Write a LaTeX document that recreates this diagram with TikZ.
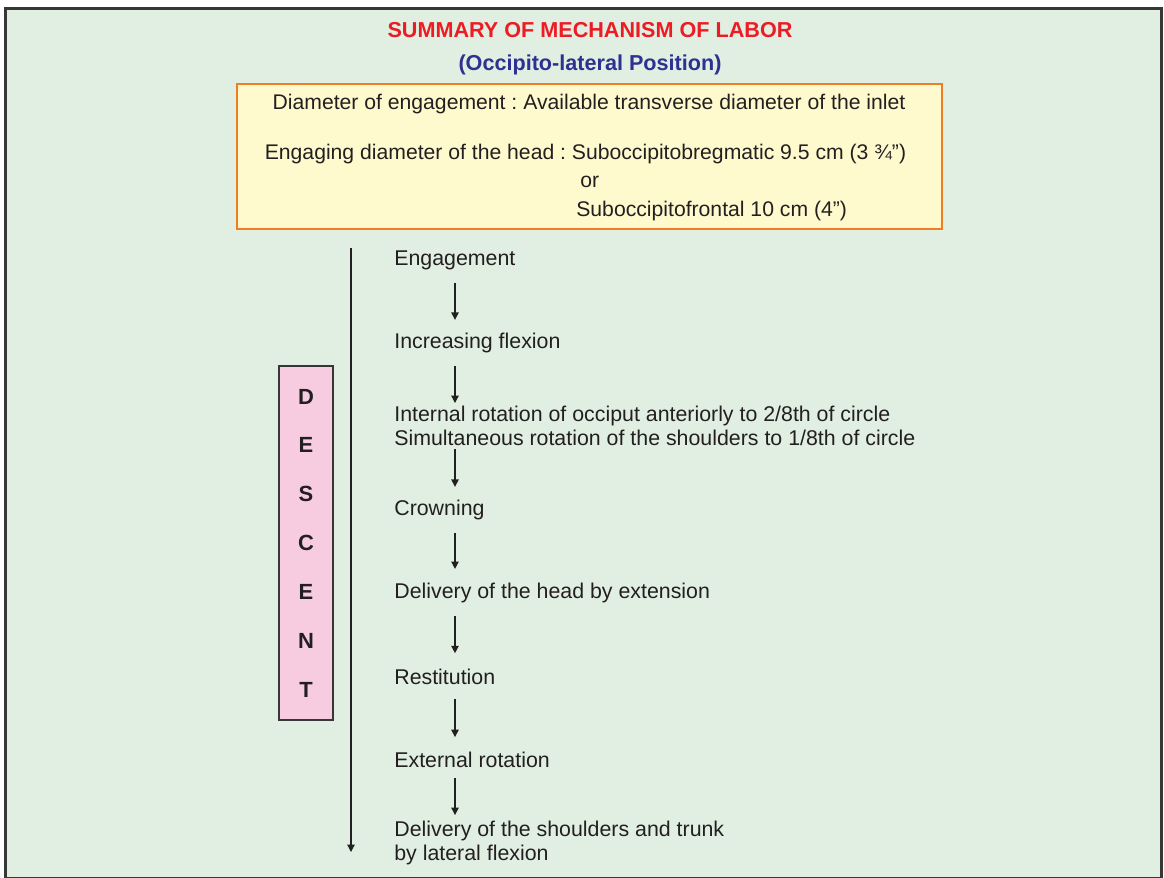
\documentclass[tikz,border=0pt]{standalone}
\usepackage{fontspec}
\setmainfont{Liberation Sans}
\usepackage{xcolor}
\usepackage{tikz}
\usetikzlibrary{arrows.meta, positioning, calc}
\definecolor{panelgreen}{RGB}{224, 239, 225}
\definecolor{framegray}{RGB}{55, 55, 55}
\definecolor{inkgray}{RGB}{35, 31, 32}
\definecolor{boxyellow}{RGB}{255, 250, 205}
\definecolor{boxorange}{RGB}{240, 125, 35}
\definecolor{descpink}{RGB}{248, 204, 224}
\definecolor{titlered}{RGB}{237, 28, 36}
\definecolor{subblue}{RGB}{46, 49, 146}
\frenchspacing

\begin{document}
\begin{tikzpicture}[
    x=0.02cm, y=-0.02cm,
    stepfont/.style={font=\fontsize{12.15}{13.7}\selectfont},
    stage/.style={stepfont, inner sep=0pt, anchor=north west, text=inkgray},
    oneline/.style={stage, text height=8.6pt, text depth=2.5pt},
    twoline/.style={stage, align=left},
    boxtext/.style={font=\fontsize{12.05}{13.7}\selectfont, inner sep=0pt, anchor=base, text=inkgray},
    heading/.style={font=\fontsize{12.3}{14}\selectfont\bfseries, inner sep=0pt},
    inletbox/.style={rectangle, draw=boxorange, line width=0.8pt, fill=boxyellow, minimum width=14.1cm, minimum height=2.9cm},
    descentbox/.style={rectangle, draw=framegray, line width=0.8pt, fill=descpink, minimum width=1.08cm, minimum height=7.08cm, align=center, font=\fontsize{12.5}{27.8}\selectfont\bfseries, text=inkgray},
    arrow/.style={-{Triangle[length=4.2pt, width=4.2pt]}, line width=0.7pt, draw=inkgray},
    steparrow/.style={arrow, shorten <=7.2pt, shorten >=7.5pt}
]

% Page and frame
\path[use as bounding box] (0,0) rectangle (1164,877);
\clip (0,0) rectangle (1164,877);
\fill[white] (0,0) rectangle (1164,877);
\draw[line width=1.7pt, draw=framegray, fill=panelgreen] (5.5,8.5) rectangle (1161,878);

% Heading
\node[heading, text=titlered] (title) at (590,30) {SUMMARY OF MECHANISM OF LABOR};
\node[heading, text=subblue] (subtitle) at (590,65) {(Occipito-lateral Position)};

% Diameters box
\node[inletbox] (inlet) at (589.5,156.5) {};
\node[boxtext] (diam) at (589,109) {Diameter of engagement : Available transverse diameter of the inlet};
\node[boxtext] (engag) at (585.5,159) {Engaging diameter of the head : Suboccipitobregmatic 9.5 cm (3 ¾”)};
\node[boxtext, anchor=base west] (orword) at (580,187) {or};
\node[boxtext, anchor=base west] (subfront) at (576,216) {Suboccipitofrontal 10 cm (4”)};

% Descent
\node[descentbox] (descent) at (306,543) {D\\E\\S\\C\\E\\N\\T};
\coordinate (dtop) at (351,248);
\coordinate (dbot) at (351,852);
\draw[arrow] (dtop) -- (dbot);

% Movements
\node[oneline] (s1) at (394,250) {Engagement};
\node[oneline] (s2) at (394,333) {Increasing flexion};
\node[twoline] (s3) at (394,406) {Internal rotation of occiput anteriorly to 2/8th of circle\\Simultaneous rotation of the shoulders to 1/8th of circle};
\node[oneline] (s4) at (394,500) {Crowning};
\node[oneline] (s5) at (394,583) {Delivery of the head by extension};
\node[oneline] (s6) at (394,669) {Restitution};
\node[oneline] (s7) at (394,752) {External rotation};
\node[twoline] (s8) at (394,821) {Delivery of the shoulders and trunk\\by lateral flexion};

% Step arrows
\coordinate (ax) at (455,0);
\draw[steparrow] (s1.south -| ax) -- (s2.north -| ax);
\draw[steparrow, shorten >=1.7pt] (s2.south -| ax) -- (s3.north -| ax);
\draw[steparrow, shorten <=1.5pt] (s3.south -| ax) -- (s4.north -| ax);
\draw[steparrow, shorten >=8pt] (s4.south -| ax) -- (s5.north -| ax);
\draw[steparrow, shorten >=9pt] (s5.south -| ax) -- (s6.north -| ax);
\draw[steparrow, shorten <=5.5pt, shorten >=8.5pt] (s6.south -| ax) -- (s7.north -| ax);
\draw[steparrow, shorten <=3.2pt, shorten >=3.4pt] (s7.south -| ax) -- (s8.north -| ax);

\end{tikzpicture}
\end{document}
